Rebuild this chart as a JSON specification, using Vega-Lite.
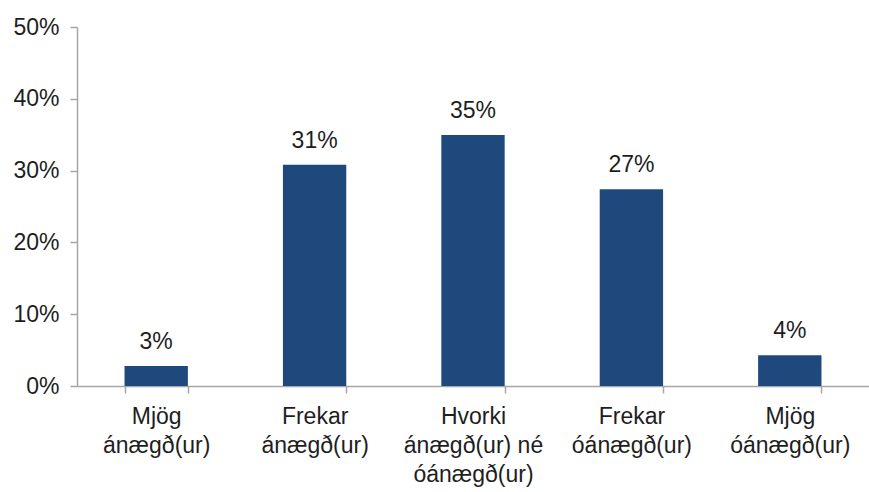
{
  "$schema": "https://vega.github.io/schema/vega-lite/v6.json",
  "width": 792,
  "height": 359,
  "autosize": {"type": "none"},
  "padding": {"left": 77, "top": 27, "right": 0, "bottom": 106},
  "background": "white",
  "data": {
    "values": [
      {"cat": "Mjög|ánægð(ur)", "value": 0.028},
      {"cat": "Frekar|ánægð(ur)", "value": 0.308},
      {"cat": "Hvorki|ánægð(ur) né|óánægð(ur)", "value": 0.3496},
      {"cat": "Frekar|óánægð(ur)", "value": 0.274},
      {"cat": "Mjög|óánægð(ur)", "value": 0.043}
    ]
  },
  "config": {
    "view": {"stroke": null},
    "font": "Liberation Sans",
    "axis": {
      "labelFont": "Liberation Sans",
      "labelFontSize": 23,
      "labelColor": "#1e1e1e",
      "domainColor": "#A6A6A6",
      "tickColor": "#A6A6A6",
      "domainWidth": 1.5,
      "tickWidth": 1.5,
      "tickSize": 7,
      "grid": false,
      "title": null
    }
  },
  "encoding": {
    "x": {
      "field": "cat",
      "type": "nominal",
      "sort": null,
      "scale": {"paddingInner": 0.6, "paddingOuter": 0.3},
      "axis": {
        "labelAngle": 0,
        "tickBand": "extent",
        "labelPadding": 12,
        "labelLineHeight": 29,
        "labelExpr": "split(datum.label, '|')"
      }
    },
    "y": {
      "field": "value",
      "type": "quantitative",
      "scale": {"domain": [0, 0.5], "nice": false},
      "axis": {"format": ".0%", "values": [0, 0.1, 0.2, 0.3, 0.4, 0.5], "labelPadding": 11}
    }
  },
  "layer": [
    {"mark": {"type": "bar", "color": "#1F497D"}},
    {
      "mark": {"type": "text", "baseline": "alphabetic", "dy": -17, "fontSize": 23, "color": "#1e1e1e", "font": "Liberation Sans"},
      "encoding": {"text": {"field": "value", "type": "quantitative", "format": ".0%"}}
    }
  ]
}
